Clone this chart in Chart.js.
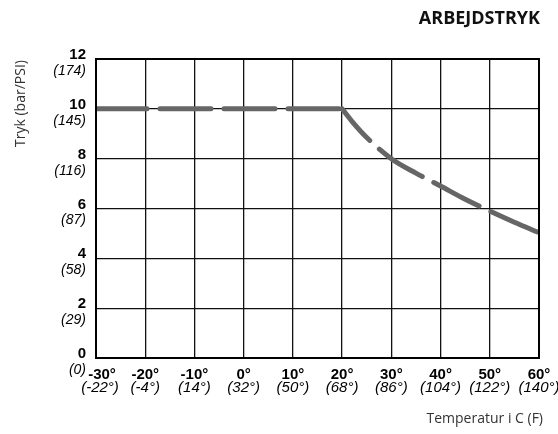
<!DOCTYPE html>
<html>
<head>
<meta charset="utf-8">
<script src="https://cdn.jsdelivr.net/npm/chart.js@4"></script>
<style>
  html, body { margin: 0; padding: 0; background: #fff; }
  #wrap { width: 558px; height: 434px; position: relative; }
</style>
</head>
<body>
<div id="wrap"><canvas id="c" width="558" height="434"></canvas></div>
<script>
// Data
const tempC = [-30, 20, 22, 25, 30, 35, 40, 45, 50, 55, 60];
const pressureBar = [10, 10, 9.5, 8.85, 8.0, 7.42, 6.9, 6.37, 5.9, 5.45, 5.03];

// Tick labels
const xTickValues = [-30, -20, -10, 0, 10, 20, 30, 40, 50, 60];
const xLabelsC = ['-30°', '-20°', '-10°', '0°', '10°', '20°', '30°', '40°', '50°', '60°'];
const xLabelsF = ['(-22°)', '(-4°)', '(14°)', '(32°)', '(50°)', '(68°)', '(86°)', '(104°)', '(122°)', '(140°)'];
const yTickValues = [0, 2, 4, 6, 8, 10, 12];
const yLabelsBar = ['0', '2', '4', '6', '8', '10', '12'];
const yLabelsPsi = ['(0)', '(29)', '(58)', '(87)', '(116)', '(145)', '(174)'];

const chartTitle = 'ARBEJDSTRYK';
const yTitle = 'Tryk (bar/PSI)';
const xTitle = 'Temperatur i C (F)';
const curveStart = 20; // temperature where pressure starts to fall

const points = tempC.map((t, i) => ({ x: t, y: pressureBar[i] }));
const flatPart = points.filter(p => p.x <= curveStart);
const curvePart = points.filter(p => p.x >= curveStart);

const labelPlugin = {
  id: 'labels',
  afterDraw(chart) {
    const ctx = chart.ctx;
    const xs = chart.scales.x, ys = chart.scales.y;
    const ca = chart.chartArea;
    ctx.save();
    ctx.fillStyle = '#000';
    // Y tick labels
    ctx.textAlign = 'right';
    ctx.textBaseline = 'middle';
    yTickValues.forEach((v, i) => {
      const py = ys.getPixelForValue(v);
      const px = ca.left - 10;
      ctx.font = 'bold 15px "Liberation Sans", Arial, sans-serif';
      ctx.fillText(yLabelsBar[i], px, py - 4);
      ctx.font = 'italic 14px "Liberation Sans", Arial, sans-serif';
      ctx.fillText(yLabelsPsi[i], px, py + 12);
    });
    // X tick labels
    ctx.textAlign = 'center';
    xTickValues.forEach((v, i) => {
      const px = xs.getPixelForValue(v) + (i === 0 ? 6 : 0);
      ctx.font = 'bold 15px "Liberation Sans", Arial, sans-serif';
      ctx.fillText(xLabelsC[i], px, ca.bottom + 17);
      ctx.font = 'italic 15px "Liberation Sans", Arial, sans-serif';
      ctx.fillText(xLabelsF[i], px - (i === 0 ? 2 : 0), ca.bottom + 29.5);
    });
    // Title
    ctx.fillStyle = '#111';
    ctx.textAlign = 'right';
    ctx.font = 'bold 18px "Open Sans", sans-serif';
    ctx.fillText(chartTitle, ca.right + 1, 19);
    // X title
    ctx.fillStyle = '#333';
    ctx.font = '14px "Open Sans", sans-serif';
    ctx.fillText(xTitle, ca.right + 4, 419);
    // Y title
    ctx.translate(21, (ca.top + ca.bottom) / 2 - 105);
    ctx.rotate(-Math.PI / 2);
    ctx.textAlign = 'center';
    ctx.fillText(yTitle, 0, 0);
    ctx.restore();
  }
};

const lineStyle = {
  borderColor: '#666666',
  borderWidth: 5,
  borderDash: [51, 13],
  borderCapStyle: 'round',
  borderJoinStyle: 'round',
  pointRadius: 0,
  fill: false,
  cubicInterpolationMode: 'monotone'
};

new Chart(document.getElementById('c'), {
  type: 'line',
  data: {
    datasets: [
      Object.assign({ data: flatPart, borderDashOffset: 0 }, lineStyle),
      Object.assign({ data: curvePart, borderDashOffset: 9 }, lineStyle)
    ]
  },
  options: {
    responsive: false,
    animation: false,
    layout: { padding: { left: 96, right: 19, top: 59, bottom: 76 } },
    plugins: { legend: { display: false }, tooltip: { enabled: false }, title: { display: false } },
    scales: {
      x: {
        type: 'linear', min: -30, max: 60,
        ticks: { display: false, stepSize: 10 },
        grid: { color: '#111', lineWidth: 1.3, drawTicks: false },
        border: { color: '#000', width: 2 }
      },
      y: {
        type: 'linear', min: 0, max: 12,
        ticks: { display: false, stepSize: 2 },
        grid: { color: '#111', lineWidth: 1.3, drawTicks: false },
        border: { color: '#000', width: 2 }
      }
    }
  },
  plugins: [labelPlugin, {
    id: 'frame',
    afterDraw(chart) {
      const { ctx, chartArea: ca } = chart;
      ctx.save();
      ctx.strokeStyle = '#000';
      ctx.lineWidth = 2;
      ctx.strokeRect(ca.left, ca.top, ca.right - ca.left, ca.bottom - ca.top);
      ctx.restore();
    }
  }]
});
</script>
</body>
</html>
